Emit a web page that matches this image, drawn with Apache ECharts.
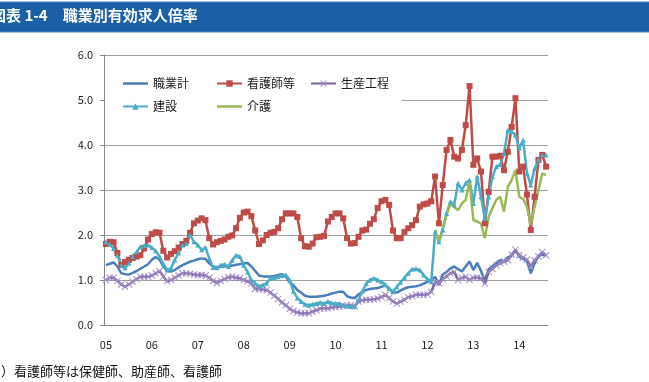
<!DOCTYPE html>
<html>
<head>
<meta charset="utf-8">
<script src="https://cdn.jsdelivr.net/npm/echarts@6/dist/echarts.min.js"></script>
<style>
html, body { margin: 0; padding: 0; background: #fff; }
#chart { width: 649px; height: 382px; }
</style>
</head>
<body>
<div id="chart"></div>
<script>
// 2005年1月〜2014年8月（月次）
const years = ['05', '06', '07', '08', '09', '10', '11', '12', '13', '14']
const lastMonth = 8

// 職業計
const total = [
  1.33, 1.36, 1.39, 1.30, 1.15, 1.13, 1.12, 1.16, 1.20, 1.25, 1.30, 1.35,
  1.45, 1.51, 1.45, 1.30, 1.20, 1.19, 1.22, 1.28, 1.33, 1.37, 1.41, 1.43,
  1.46, 1.48, 1.47, 1.37, 1.30, 1.28, 1.29, 1.30, 1.31, 1.32, 1.34, 1.35,
  1.37, 1.38, 1.30, 1.20, 1.10, 1.08, 1.08, 1.08, 1.09, 1.11, 1.13, 1.08,
  0.95, 0.88, 0.78, 0.72, 0.65, 0.63, 0.63, 0.63, 0.64, 0.65, 0.67, 0.70,
  0.72, 0.74, 0.74, 0.64, 0.61, 0.60, 0.68, 0.74, 0.78, 0.80, 0.81, 0.82,
  0.85, 0.88, 0.80, 0.72, 0.72, 0.77, 0.81, 0.84, 0.85, 0.86, 0.88, 0.92,
  0.96, 1.00, 1.07, 0.89, 1.12, 1.18, 1.26, 1.30, 1.24, 1.19, 1.30, 1.41,
  1.22, 1.38, 1.20, 0.98, 1.24, 1.30, 1.38, 1.44, 1.42, 1.50, 1.54, 1.67,
  1.52, 1.47, 1.42, 1.15, 1.37, 1.54, 1.56, 1.55
]
// 看護師等
const nurse = [
  1.80, 1.85, 1.84, 1.60, 1.33, 1.40, 1.45, 1.49, 1.52, 1.55, 1.70, 1.90,
  2.02, 2.06, 2.05, 1.65, 1.50, 1.58, 1.64, 1.72, 1.80, 1.87, 2.05, 2.26,
  2.32, 2.37, 2.33, 1.93, 1.79, 1.84, 1.87, 1.90, 1.96, 1.99, 2.15, 2.38,
  2.50, 2.52, 2.42, 2.10, 1.80, 1.88, 2.00, 2.05, 2.07, 2.15, 2.35, 2.48,
  2.48, 2.48, 2.40, 1.93, 1.75, 1.74, 1.81, 1.95, 1.96, 1.98, 2.30, 2.40,
  2.48, 2.48, 2.37, 1.93, 1.81, 1.82, 1.96, 2.10, 2.12, 2.25, 2.35, 2.60,
  2.75, 2.78, 2.67, 2.10, 1.93, 1.93, 2.07, 2.15, 2.22, 2.33, 2.63, 2.68,
  2.70, 2.75, 3.30, 2.26, 3.11, 3.89, 4.11, 3.74, 3.70, 3.89, 4.44, 5.31,
  3.56, 3.70, 3.41, 2.26, 2.96, 3.74, 3.74, 3.76, 3.44, 3.85, 4.40, 5.04,
  3.41, 3.52, 2.90, 2.11, 2.85, 3.67, 3.78, 3.52
]
// 生産工程
const production = [
  1.00, 1.05, 1.05, 0.98, 0.90, 0.85, 0.90, 0.96, 1.02, 1.07, 1.07, 1.07,
  1.10, 1.15, 1.20, 1.08, 0.97, 1.00, 1.05, 1.10, 1.15, 1.15, 1.14, 1.12,
  1.11, 1.11, 1.10, 1.05, 0.98, 0.93, 0.98, 1.02, 1.06, 1.07, 1.05, 1.04,
  1.00, 0.97, 0.92, 0.80, 0.80, 0.79, 0.78, 0.72, 0.65, 0.58, 0.50, 0.44,
  0.36, 0.31, 0.28, 0.26, 0.26, 0.26, 0.30, 0.33, 0.36, 0.37, 0.37, 0.39,
  0.40, 0.41, 0.42, 0.44, 0.44, 0.41, 0.52, 0.55, 0.56, 0.56, 0.57, 0.59,
  0.62, 0.67, 0.60, 0.52, 0.48, 0.52, 0.56, 0.62, 0.64, 0.67, 0.67, 0.67,
  0.68, 0.74, 0.95, 0.93, 1.02, 1.08, 1.15, 1.18, 1.00, 1.05, 1.07, 1.00,
  1.05, 1.05, 1.04, 0.92, 1.18, 1.25, 1.33, 1.37, 1.41, 1.44, 1.56, 1.67,
  1.55, 1.50, 1.45, 1.30, 1.44, 1.52, 1.62, 1.55
]
// 建設
const construction = [
  1.85, 1.80, 1.70, 1.55, 1.33, 1.27, 1.37, 1.52, 1.62, 1.74, 1.76, 1.78,
  1.72, 1.65, 1.52, 1.36, 1.22, 1.26, 1.45, 1.60, 1.78, 1.81, 2.00, 1.85,
  1.78, 1.67, 1.72, 1.48, 1.28, 1.27, 1.33, 1.35, 1.30, 1.44, 1.55, 1.52,
  1.33, 1.18, 1.00, 0.93, 0.86, 0.89, 0.93, 1.04, 1.05, 1.07, 1.10, 1.11,
  1.00, 0.75, 0.60, 0.52, 0.46, 0.44, 0.46, 0.48, 0.50, 0.48, 0.52, 0.49,
  0.48, 0.48, 0.44, 0.42, 0.41, 0.41, 0.56, 0.75, 0.92, 1.00, 1.04, 1.00,
  0.96, 0.90, 0.81, 0.74, 0.85, 0.95, 1.05, 1.15, 1.24, 1.25, 1.22, 1.11,
  1.02, 0.96, 2.07, 1.85, 2.11, 2.48, 2.74, 2.67, 3.15, 3.00, 3.15, 3.22,
  2.70, 3.30, 2.85, 2.37, 2.85, 3.30, 3.52, 3.56, 3.81, 4.33, 4.30, 4.22,
  3.93, 4.11, 3.37, 3.11, 3.48, 3.67, 3.78, 3.78
]
// 介護（2012年3月から）
const care = [
  null, null, null, null, null, null, null, null, null, null, null, null,
  null, null, null, null, null, null, null, null, null, null, null, null,
  null, null, null, null, null, null, null, null, null, null, null, null,
  null, null, null, null, null, null, null, null, null, null, null, null,
  null, null, null, null, null, null, null, null, null, null, null, null,
  null, null, null, null, null, null, null, null, null, null, null, null,
  null, null, null, null, null, null, null, null, null, null, null, null,
  null, null, 2.10, 1.85, 2.15, 2.45, 2.70, 2.62, 2.55, 2.70, 2.78, 3.20,
  2.33, 2.30, 2.25, 1.93, 2.40, 2.60, 2.78, 2.85, 2.52, 3.07, 3.22, 3.44,
  2.85, 2.80, 2.63, 2.22, 2.63, 3.00, 3.37, 3.33
]

const categories = []
years.forEach((y, k) => {
  const n = k === years.length - 1 ? lastMonth : 12
  for (let m = 1; m <= n; m++) categories.push(y + '/' + m)
})

const font = '"Noto Sans CJK JP", "Noto Sans", sans-serif'
const xMark = 'path://M0,1L1,0L5,4L9,0L10,1L6,5L10,9L9,10L5,6L1,10L0,9L4,5Z'
// 線だけの凡例アイコン（上下の極小三角で枠を確保）
const lineIcon = 'path://M0,0L0.01,0L0,0.01Z M0,2.75H25V5.25H0Z M0,8L0.01,8L0,7.99Z'

const legendBase = {
  top: 65,
  orient: 'vertical',
  itemWidth: 25,
  itemHeight: 8,
  itemGap: 6,
  backgroundColor: '#fff',
  textStyle: { fontSize: 12, color: '#222', height: 17, lineHeight: 17, fontFamily: font }
}

const chart = echarts.init(document.getElementById('chart'))
chart.setOption({
  animation: false,
  textStyle: { fontFamily: font },
  graphic: [
    {
      type: 'rect',
      shape: { x: -1, y: 2, width: 651, height: 30 },
      style: { fill: '#1b5fa7', stroke: '#4a86c5', lineWidth: 1 },
      z: 0
    },
    {
      type: 'text',
      left: -9,
      top: 8,
      style: {
        text: '図表 1-4　職業別有効求人倍率',
        fill: '#fff',
        font: 'bold 15px ' + font
      },
      z: 1
    },
    {
      type: 'text',
      left: 1,
      top: 365,
      style: {
        text: '）看護師等は保健師、助産師、看護師',
        fill: '#111',
        font: '13px ' + font
      }
    }
  ],
  legend: [
    Object.assign({}, legendBase, {
      left: 105,
      padding: [10, 8, 10, 17],
      data: [{ name: '職業計', icon: lineIcon }, '建設']
    }),
    Object.assign({}, legendBase, {
      left: 196,
      padding: [10, 8, 10, 20],
      data: ['看護師等', { name: '介護', icon: lineIcon }]
    }),
    Object.assign({}, legendBase, {
      left: 302,
      padding: [10, 13, 33, 8],
      data: ['生産工程']
    })
  ],
  grid: { left: 104, right: 101, top: 55, bottom: 57 },
  xAxis: {
    type: 'category',
    data: categories,
    boundaryGap: true,
    axisLine: { lineStyle: { color: '#888', width: 1 } },
    axisTick: { interval: 0, length: 4, lineStyle: { color: '#888' } },
    axisLabel: {
      interval: 11,
      margin: 14,
      fontSize: 11,
      color: '#222',
      formatter: v => v.split('/')[0]
    },
    splitLine: { show: false }
  },
  yAxis: {
    type: 'value',
    min: 0,
    max: 6,
    interval: 1,
    axisLine: { show: true, lineStyle: { color: '#888', width: 1 } },
    axisTick: { show: true, length: 4, lineStyle: { color: '#888' } },
    axisLabel: { fontSize: 11, color: '#222', margin: 11, formatter: v => v.toFixed(1) },
    splitLine: { lineStyle: { color: '#a0a0a0', width: 1 } }
  },
  series: [
    {
      name: '職業計',
      type: 'line',
      data: total,
      symbol: 'none',
      color: '#4a7ebb',
      lineStyle: { width: 2.5, color: '#4a7ebb' }
    },
    {
      name: '看護師等',
      type: 'line',
      data: nurse,
      symbol: 'rect',
      symbolSize: 6,
      showAllSymbol: true,
      color: '#be4b48',
      itemStyle: { color: '#be4b48' },
      lineStyle: { width: 2.5, color: '#be4b48' }
    },
    {
      name: '生産工程',
      type: 'line',
      data: production,
      symbol: xMark,
      symbolSize: 7,
      showAllSymbol: true,
      color: '#7d60a0',
      itemStyle: { color: '#a18cc6' },
      lineStyle: { width: 2.5, color: '#7d60a0' }
    },
    {
      name: '建設',
      type: 'line',
      data: construction,
      symbol: 'triangle',
      symbolSize: 5,
      showAllSymbol: true,
      color: '#4aacc6',
      itemStyle: { color: '#4aacc6' },
      lineStyle: { width: 2.5, color: '#4aacc6' }
    },
    {
      name: '介護',
      type: 'line',
      data: care,
      symbol: 'none',
      color: '#98b954',
      lineStyle: { width: 2.5, color: '#98b954' }
    }
  ]
})
</script>
</body>
</html>
